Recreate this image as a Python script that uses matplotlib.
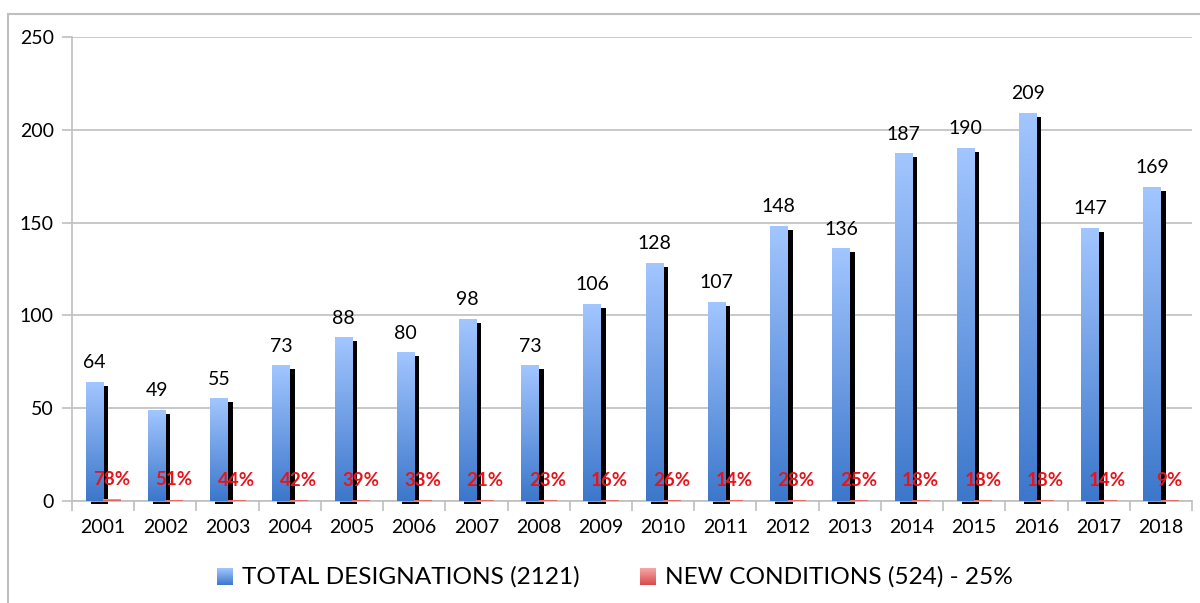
import matplotlib.pyplot as plt
import numpy as np
from matplotlib.colors import LinearSegmentedColormap
from matplotlib.lines import Line2D

years = ["2001", "2002", "2003", "2004", "2005", "2006", "2007", "2008", "2009",
         "2010", "2011", "2012", "2013", "2014", "2015", "2016", "2017", "2018"]
total = [64, 49, 55, 73, 88, 80, 98, 73, 106, 128, 107, 148, 136, 187, 190, 209, 147, 169]
new_share = [0.78, 0.51, 0.44, 0.42, 0.39, 0.33, 0.21, 0.23, 0.16, 0.26, 0.14, 0.28,
             0.25, 0.18, 0.18, 0.18, 0.14, 0.09]
legend_labels = ["TOTAL DESIGNATIONS (2121)", "NEW CONDITIONS (524) - 25%"]

plt.rcParams["font.family"] = ["Lato", "DejaVu Sans"]

blue_cmap = LinearSegmentedColormap.from_list("blue_grad", ["#3c77cb", "#a2c6ff"])
red_cmap = LinearSegmentedColormap.from_list("red_grad", ["#d84a4a", "#f7a8a8"])
grad = np.linspace(1, 0, 256).reshape(-1, 1)

fig = plt.figure(figsize=(12, 6.03), dpi=100)
ax = fig.add_axes([0.06, 0.1692, 0.9333, 0.7695])

bar_w = 0.28
dx_shadow = 0.08
dy_shadow = 2.2
x = np.arange(len(years))

for i, (v, r) in enumerate(zip(total, new_share)):
    x0 = x[i] - bar_w
    # drop shadow behind the blue bar
    ax.bar(x0 + bar_w / 2 + dx_shadow, v, width=bar_w, bottom=-dy_shadow + 0.3,
           color="black", zorder=2, clip_on=False)
    ax.imshow(grad, cmap=blue_cmap, extent=[x0, x0 + bar_w, 0, v],
              aspect="auto", zorder=3, interpolation="bicubic")
    ax.imshow(grad, cmap=red_cmap, extent=[x[i], x[i] + bar_w, 0, r],
              aspect="auto", zorder=3)
    ax.annotate(str(v), xy=(x0 + bar_w / 2, v), xytext=(0, 14),
                textcoords="offset points", ha="center", va="center",
                fontsize=14, color="black", zorder=5)
    ax.annotate(f"{r:.0%}", xy=(x[i] + bar_w / 2, r), xytext=(0, 14.5),
                textcoords="offset points", ha="center", va="center",
                fontsize=13.5, fontweight="bold", color="#e8141b", zorder=5)

ax.set_xlim(-0.5, len(years) - 0.5)
ax.set_ylim(0, 250)
ax.set_yticks(np.arange(0, 251, 50))
ax.yaxis.grid(True, color="#bfbfbf", linewidth=1.2)
ax.set_axisbelow(True)

ax.set_xticks(x)
ax.set_xticklabels(years)
ax.set_xticks(np.arange(-0.5, len(years)), minor=True)
ax.tick_params(axis="x", which="major", length=0, pad=13, labelsize=14)
ax.tick_params(axis="x", which="minor", length=7, color="#bfbfbf", width=1.2)
ax.tick_params(axis="y", length=7, color="#bfbfbf", width=1.2, pad=6, labelsize=14)

for side in ["top", "right"]:
    ax.spines[side].set_visible(False)
for side in ["left", "bottom"]:
    ax.spines[side].set_color("#bfbfbf")
    ax.spines[side].set_linewidth(1.2)

# outer chart frame
fig.add_artist(Line2D([0.007, 0.007], [0, 0.977], color="#bfbfbf", lw=1.5))
fig.add_artist(Line2D([0.007, 1.0], [0.977, 0.977], color="#bfbfbf", lw=1.5))

# legend with gradient swatches
for cmap, sx, tx, label in [(blue_cmap, 217, 242, legend_labels[0]),
                            (red_cmap, 640, 665, legend_labels[1])]:
    sw = fig.add_axes([sx / 1200, 1 - 585 / 603, 16 / 1200, 17 / 603])
    sw.imshow(grad, cmap=cmap, aspect="auto", extent=[0, 1, 0, 1])
    sw.axis("off")
    fig.text(tx / 1200, 1 - 577 / 603, label, fontsize=17.6, va="center", ha="left")

fig.savefig("out.png", dpi=100)
